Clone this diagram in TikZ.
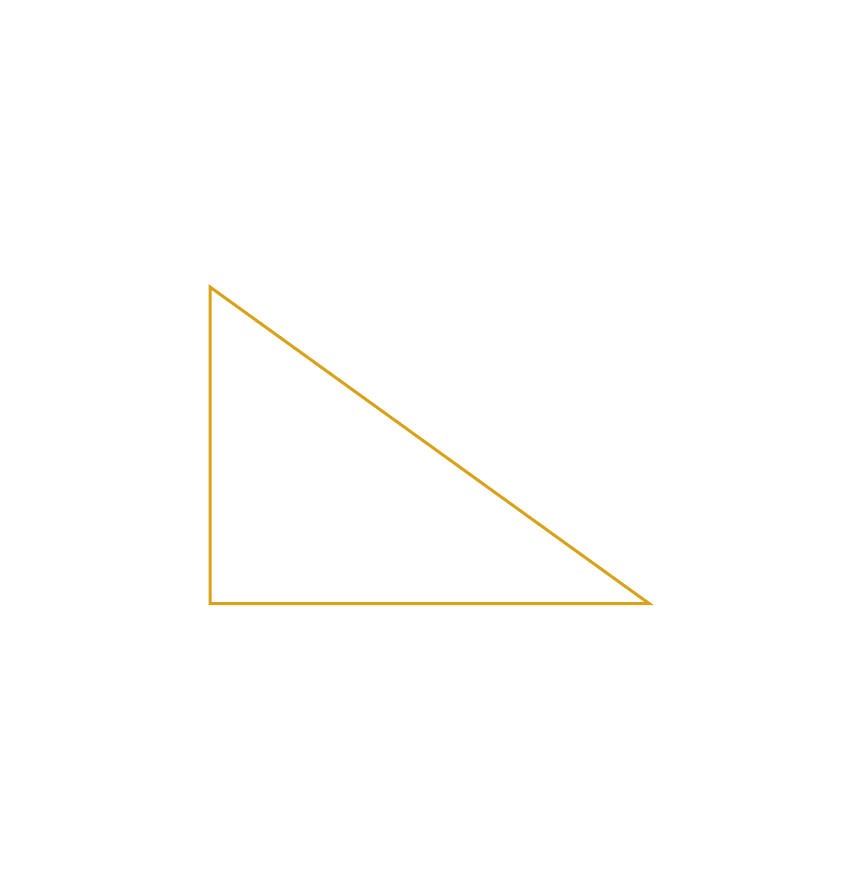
\documentclass[tikz,border=0pt]{standalone}
\definecolor{tri}{HTML}{D9A21B}
\begin{document}
\begin{tikzpicture}[x=1pt,y=-1pt]
\useasboundingbox (0,0) rectangle (860,890);
\coordinate (a) at (210,287);
\coordinate (b) at (210,603.5);
\coordinate (c) at (649,603.5);
\draw[tri, line width=3pt, line join=miter] (a) -- (b) -- (c) -- cycle;
\end{tikzpicture}
\end{document}
